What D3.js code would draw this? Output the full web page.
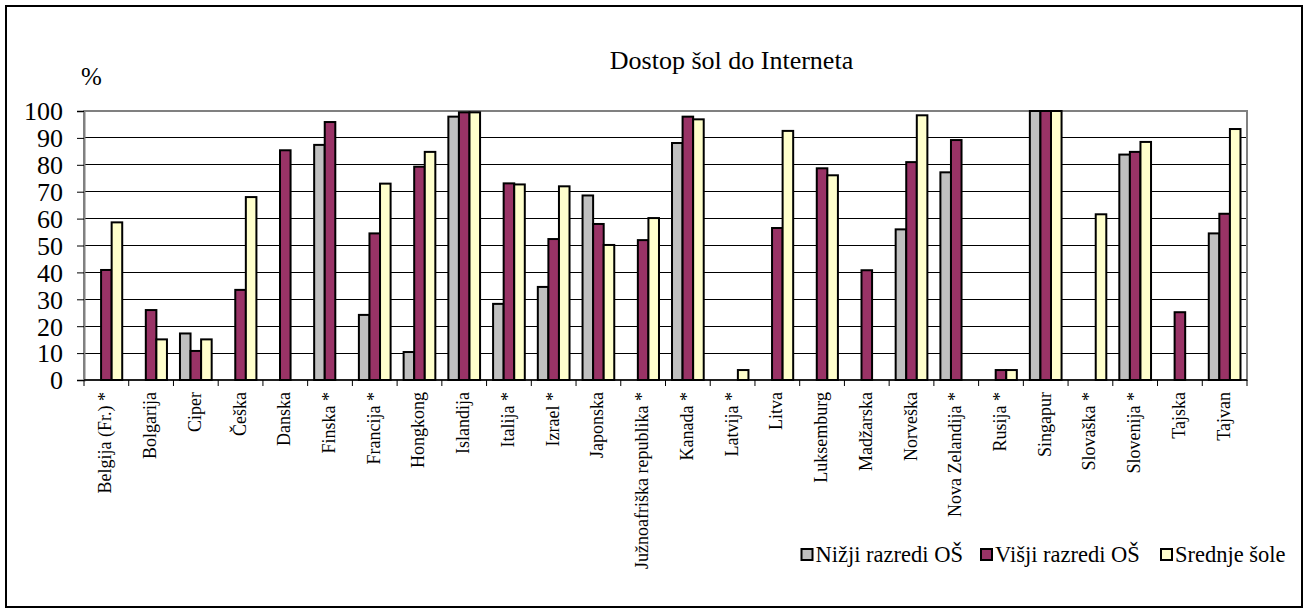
<!DOCTYPE html>
<html><head><meta charset="utf-8">
<script src="https://cdn.jsdelivr.net/npm/d3@7"></script>
<style>html,body{margin:0;padding:0;background:#fff;}svg{display:block;}
svg text{font-family:"Liberation Serif","Times New Roman",Tinos,"DejaVu Serif",serif !important;}</style>
</head><body>
<script>
const categories = ["Belgija (Fr.) *","Bolgarija","Ciper","Češka","Danska","Finska *","Francija *","Hongkong","Islandija","Italija *","Izrael *","Japonska","Južnoafriška republika *","Kanada *","Latvija *","Litva","Luksemburg","Madžarska","Norveška","Nova Zelandija *","Rusija *","Singapur","Slovaška *","Slovenija *","Tajska","Tajvan"];
const seriesNames = ["Nižji razredi OŠ","Višji razredi OŠ","Srednje šole"];
const nizji = [null,null,17.3,null,null,87.4,24.2,10.4,97.9,28.3,34.6,68.6,null,88.1,null,null,null,null,56.0,77.2,null,100,null,83.8,null,54.5];
const visji = [40.9,26.0,10.8,33.5,85.4,95.9,54.5,79.3,99.5,73.1,52.4,58.0,52.0,97.9,null,56.5,78.7,40.8,81.0,89.2,3.7,100,null,84.8,25.2,61.8];
const srednje = [58.6,15.1,15.1,68.0,null,null,73.0,84.8,99.5,72.7,72.0,50.2,60.2,96.9,3.7,92.6,76.1,null,98.4,null,3.7,100,61.6,88.5,null,93.3];
const yTicks = [0,10,20,30,40,50,60,70,80,90,100];
const title = "Dostop šol do Interneta";
const yUnit = "%";

const colors = ["#C0C0C0","#993366","#FFFFCC"];
const seriesValues = [nizji, visji, srednje];

(function(){
const W = 1305, H = 612;
const svg = d3.select("body").append("svg").attr("width", W).attr("height", H);

// outer chart border
svg.append("rect").attr("x",6).attr("y",6).attr("width",1296).attr("height",601)
  .attr("fill","#fff").attr("stroke","#000").attr("stroke-width",2);

const pLeft = 84, pRight = 1247, pTop = 111, pBottom = 380;
const x0 = d3.scaleBand().domain(categories).range([pLeft, pRight]).paddingInner(0).paddingOuter(0);
const x1 = d3.scaleBand().domain(seriesNames).range([0, x0.bandwidth()]).paddingInner(0).paddingOuter(0.616);
const y = d3.scaleLinear().domain([0,100]).range([pBottom, pTop]);

// gridlines
svg.append("g").selectAll("line").data(yTicks.filter(t => t > 0 && t < 100)).join("line")
  .attr("x1", pLeft).attr("x2", pRight).attr("y1", d => y(d)).attr("y2", d => y(d))
  .attr("stroke","#000").attr("stroke-width",1).attr("shape-rendering","crispEdges");

// plot area border
svg.append("rect").attr("x",pLeft).attr("y",pTop).attr("width",pRight-pLeft).attr("height",pBottom-pTop)
  .attr("fill","none").attr("stroke","#808080").attr("stroke-width",2);

// bars
const barData = [];
categories.forEach((c,i) => seriesNames.forEach((s,j) => {
  const v = seriesValues[j][i];
  if (v !== null) barData.push({c, s, v, j});
}));
svg.append("g").selectAll("rect").data(barData).join("rect")
  .attr("x", d => x0(d.c) + x1(d.s))
  .attr("width", x1.bandwidth())
  .attr("y", d => y(d.v))
  .attr("height", d => y(0) - y(d.v))
  .attr("fill", d => colors[d.j])
  .attr("stroke","#000").attr("stroke-width",2);

// y axis
const yAxis = d3.axisLeft(y).tickValues(yTicks).tickSize(7).tickPadding(14).tickFormat(d3.format("d"));
const gy = svg.append("g").attr("transform",`translate(${pLeft},0)`).call(yAxis);
gy.attr("font-size", 26);
gy.select(".domain").attr("stroke","#808080").attr("stroke-width",2);
gy.selectAll(".tick line").attr("stroke","#000").attr("stroke-width",1);
gy.selectAll(".tick text").attr("fill","#000").attr("dy","0.34em");

// x axis line and ticks
svg.append("line").attr("x1",pLeft).attr("x2",pRight).attr("y1",pBottom).attr("y2",pBottom)
  .attr("stroke","#000").attr("stroke-width",1.5);
const boundaries = categories.map(c => x0(c)).concat([pRight]);
svg.append("g").selectAll("line").data(boundaries).join("line")
  .attr("x1", d => d).attr("x2", d => d).attr("y1", pBottom).attr("y2", pBottom + 6)
  .attr("stroke","#000").attr("stroke-width",1);

// x labels
svg.append("g").selectAll("text").data(categories).join("text")
  .attr("transform", d => `translate(${x0(d) + x0.bandwidth()/2 + 5},${pBottom + 12}) rotate(-90)`)
  .attr("text-anchor","end")
  .attr("font-size",18)
  .text(d => d);

// title and unit
svg.append("text").attr("x",731.5).attr("y",69).attr("text-anchor","middle").attr("font-size",26).text(title);
svg.append("text").attr("x",81).attr("y",85).attr("font-size",25).text(yUnit);

// legend
const legendX = [801.5, 981, 1161];
const lg = svg.append("g").selectAll("g").data(seriesNames).join("g")
  .attr("transform", (d,i) => `translate(${legendX[i]},549)`);
lg.append("rect").attr("width",11).attr("height",11).attr("fill",(d,i)=>colors[i])
  .attr("stroke","#000").attr("stroke-width",2);
lg.append("text").attr("x",14).attr("y",13).attr("font-size",22.5).text(d => d);
})();
</script>
</body></html>
